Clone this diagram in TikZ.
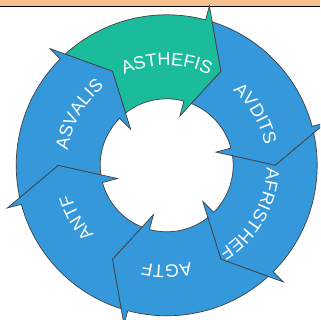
\documentclass[tikz,border=0pt]{standalone}
\usepackage{fontspec}
\newfontfamily\lab{Liberation Sans}
\usetikzlibrary{decorations.text}
\definecolor{segblue}{HTML}{3498DB}
\definecolor{seggreen}{HTML}{1ABC9C}
\definecolor{band}{HTML}{F9C08F}
\newcommand\ringarrow[2]{%
  \filldraw[seg, fill=#2] (#1+12.4:150.5) arc[start angle=#1+12.4, end angle=#1-45, radius=150.5]
    -- (#1-45:165) -- (#1-60:108.5) -- (#1-45:51) -- (#1-45:66.5)
    arc[start angle=#1-45, end angle=#1+8.22, radius=66.5] -- (#1:108.5) -- cycle;}
\newcommand\ringlabel[2]{%
  \path[decorate, decoration={text along path, text={|\lab\fontsize{18}{18}\selectfont|#2}, text align=center, text color=white}]
    (#1+50:100) arc[start angle=#1+50, end angle=#1-50, radius=100];}
\begin{document}
\begin{tikzpicture}[x=1pt,y=1pt, seg/.style={draw=black!75, line width=0.7pt, line join=miter}]
\useasboundingbox (0,0) rectangle (320,320);
\clip (0,0) rectangle (320,320);
\fill[band] (0,313.5) rectangle (320,320);
\draw[line width=1.3pt] (0,313.7) -- (320,313.7);
\begin{scope}[shift={(166.7,154.7)}]
  \ringarrow{120}{seggreen}
  \ringarrow{60}{segblue}
  \ringarrow{0}{segblue}
  \ringarrow{-60}{segblue}
  \ringarrow{-120}{segblue}
  \ringarrow{180}{segblue}
  \ringlabel{90}{ASTHEFIS}
  \ringlabel{30}{AVDITS}
  \ringlabel{-30}{AFRISTHEF}
  \ringlabel{-90}{AGTF}
  \ringlabel{-150}{ANTF}
  \ringlabel{150}{ASVALIS}
\end{scope}
\end{tikzpicture}
\end{document}
